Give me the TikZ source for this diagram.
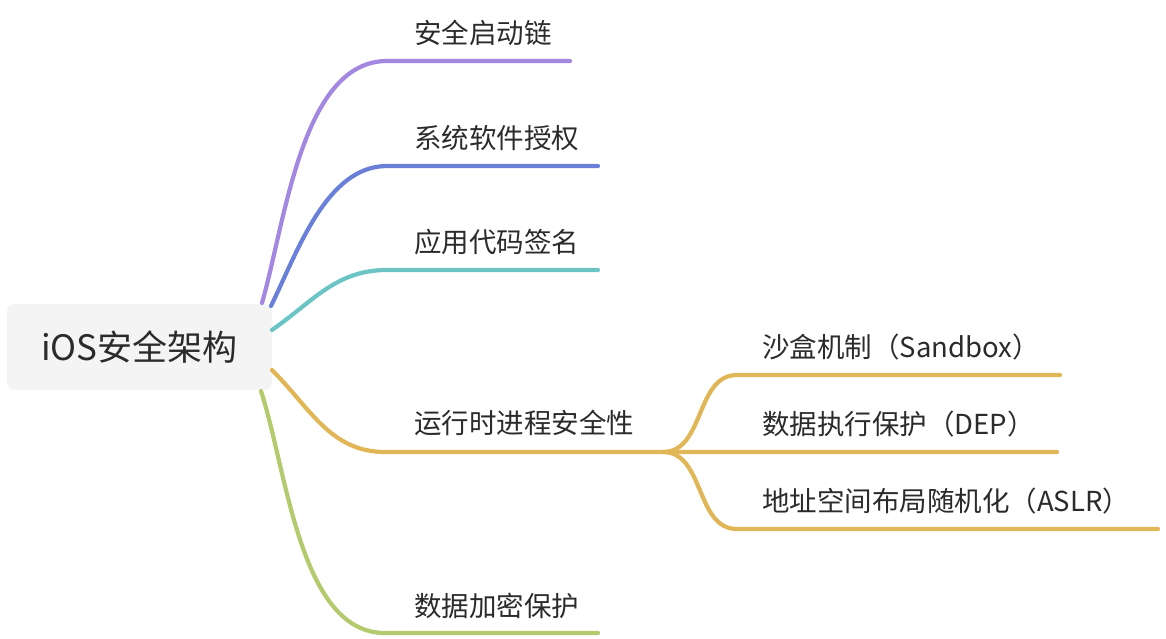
\documentclass[tikz,border=0pt]{standalone}
\usepackage{fontspec}
\setmainfont{Noto Sans CJK SC}
\definecolor{cpurple}{HTML}{A487E0}
\definecolor{cblue}{HTML}{6A80D8}
\definecolor{cteal}{HTML}{6CC4C4}
\definecolor{cgold}{HTML}{E0B657}
\definecolor{cgreen}{HTML}{B3CB6E}
\definecolor{ctext}{HTML}{2B2B2B}
\definecolor{crootbg}{HTML}{F4F4F4}
\begin{document}
\begin{tikzpicture}[x=1pt,y=-1pt,
  rootbox/.style={fill=crootbg,rounded corners=8pt,minimum width=265pt,minimum height=86pt,inner sep=0pt,text=ctext,font=\fontsize{35}{38}\selectfont},
  lbl/.style={anchor=west,inner sep=0pt,text=ctext,font=\fontsize{27.5}{31}\selectfont},
  branch/.style={line width=4.2pt,line cap=round}]
\useasboundingbox (0,0) rectangle (1166,638);
\node[rootbox] (root) at (139.5,347) {iOS安全架构};

% main branch labels
\node[lbl] (t1) at (414,33) {安全启动链};
\node[lbl] (t2) at (414,138) {系统软件授权};
\node[lbl] (t3) at (414,242) {应用代码签名};
\node[lbl] (t4) at (414,423) {运行时进程安全性};
\node[lbl] (t5) at (414,606) {数据加密保护};
% sub labels
\node[lbl] (s1) at (762,347) {沙盒机制（Sandbox）};
\node[lbl] (s2) at (762,424) {数据执行保护（DEP）};
\node[lbl] (s3) at (762,501) {地址空间布局随机化（ASLR）};

% coordinates
\coordinate (r1) at (262,303);
\coordinate (r2) at (271,306);
\coordinate (r3) at (272,330);
\coordinate (r4) at (272,370);
\coordinate (r5) at (261,391);
\coordinate (k1) at (387,61);  \coordinate (e1) at (570,61);
\coordinate (k2) at (387,166); \coordinate (e2) at (598,166);
\coordinate (k3) at (387,270); \coordinate (e3) at (598,270);
\coordinate (k4) at (385,452); \coordinate (j4) at (663,452);
\coordinate (k5) at (385,633); \coordinate (e5) at (598,633);
\coordinate (m1) at (737,375); \coordinate (f1) at (1060,375);
\coordinate (f2) at (1057,452);
\coordinate (m3) at (737,529); \coordinate (f3) at (1158,529);

\draw[branch,cpurple] (r1) to[out=74,in=180,looseness=0.8] (k1) -- (e1);
\draw[branch,cblue] (r2) to[out=64,in=180,looseness=0.85] (k2) -- (e2);
\draw[branch,cteal] (r3) to[out=35,in=180] (k3) -- (e3);
\draw[branch,cgold] (r4) to[out=-45,in=180] (k4) -- (j4) -- (f2);
\draw[branch,cgreen] (r5) to[out=-72,in=180,looseness=0.8] (k5) -- (e5);
\draw[branch,cgold] (j4) to[out=0,in=180] (m1) -- (f1);
\draw[branch,cgold] (j4) to[out=0,in=180] (m3) -- (f3);
\end{tikzpicture}
\end{document}
